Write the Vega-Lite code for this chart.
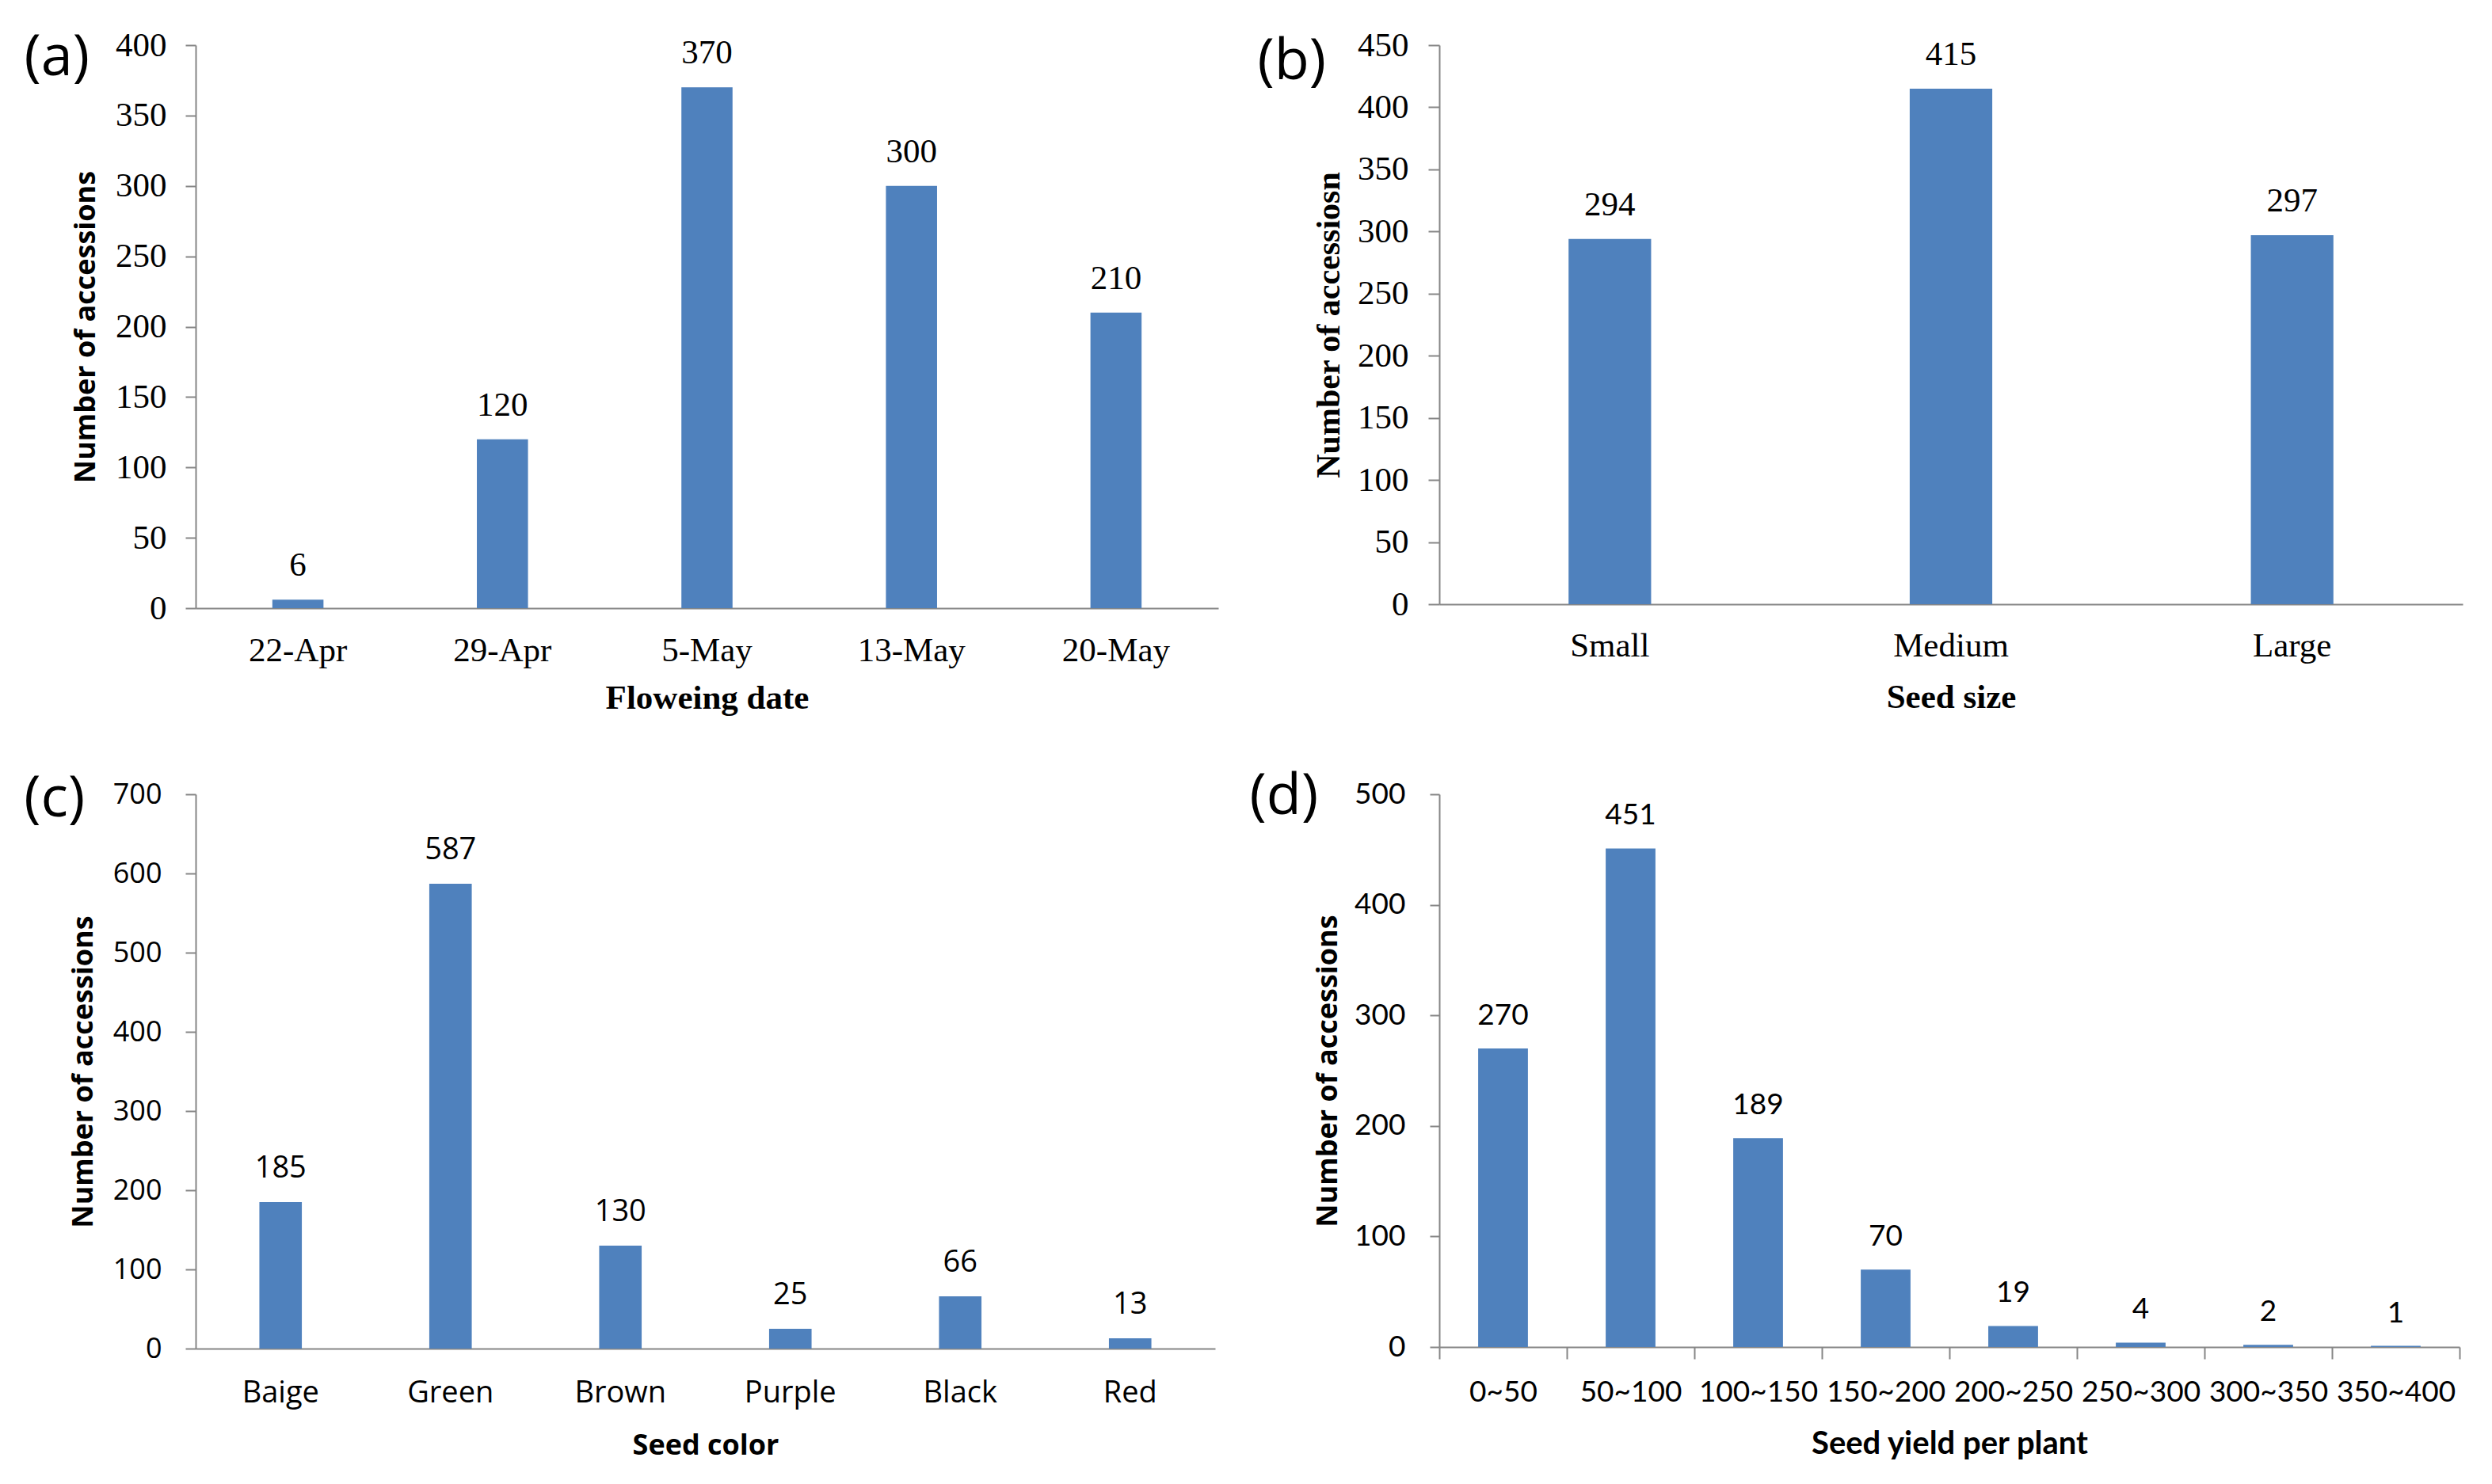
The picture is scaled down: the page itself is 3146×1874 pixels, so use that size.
{
  "$schema": "https://vega.github.io/schema/vega-lite/v6.json",
  "background": "white",
  "padding": {"left": 30, "top": 36, "right": 10, "bottom": 10},
  "columns": 2,
  "spacing": {"row": 67, "column": 39},
  "config": {
    "view": {"stroke": null},
    "axis": {
      "domainColor": "#868686",
      "domainWidth": 2,
      "tickColor": "#868686",
      "tickWidth": 2,
      "grid": false,
      "labelColor": "black",
      "titleColor": "black",
      "labelOverlap": false
    },
    "title": {"color": "black", "font": "Open Sans", "fontSize": 72, "fontWeight": "normal", "anchor": "start", "frame": "bounds", "orient": "top", "baseline": "alphabetic"}
  },
  "datasets": {
    "flowering": [
      {"date": "22-Apr", "count": 6},
      {"date": "29-Apr", "count": 120},
      {"date": "5-May", "count": 370},
      {"date": "13-May", "count": 300},
      {"date": "20-May", "count": 210}
    ],
    "size": [
      {"size": "Small", "count": 294},
      {"size": "Medium", "count": 415},
      {"size": "Large", "count": 297}
    ],
    "color": [
      {"color": "Baige", "count": 185},
      {"color": "Green", "count": 587},
      {"color": "Brown", "count": 130},
      {"color": "Purple", "count": 25},
      {"color": "Black", "count": 66},
      {"color": "Red", "count": 13}
    ],
    "yield": [
      {"range": "0~50", "count": 270},
      {"range": "50~100", "count": 451},
      {"range": "100~150", "count": 189},
      {"range": "150~200", "count": 70},
      {"range": "200~250", "count": 19},
      {"range": "250~300", "count": 4},
      {"range": "300~350", "count": 2},
      {"range": "350~400", "count": 1}
    ]
  },
  "concat": [
    {
      "title": {"text": "(a)", "offset": -74, "dx": -60},
      "width": 1291,
      "height": 711,
      "data": {"name": "flowering"},
      "encoding": {
        "x": {
          "field": "date", "type": "nominal", "sort": null,
          "scale": {"paddingInner": 0.75, "paddingOuter": 0.375},
          "axis": {
            "title": "Floweing date", "labelAngle": 0, "ticks": false,
            "labelFont": "Liberation Serif", "labelFontSize": 43, "labelPadding": 32,
            "titleFont": "Liberation Serif", "titleFontSize": 43, "titleFontWeight": "bold", "titlePadding": 17
          }
        },
        "y": {
          "field": "count", "type": "quantitative",
          "scale": {"domain": [0, 400], "nice": false},
          "axis": {
            "title": "Number of accessions", "values": [0, 50, 100, 150, 200, 250, 300, 350, 400],
            "tickSize": 13, "labelFlush": false,
            "labelFont": "Liberation Serif", "labelFontSize": 43, "labelPadding": 24,
            "titleFont": "Open Sans", "titleFontSize": 36, "titleFontWeight": "bold", "titlePadding": 18
          }
        }
      },
      "layer": [
        {"mark": {"type": "bar", "color": "#4F81BD"}},
        {
          "mark": {"type": "text", "font": "Liberation Serif", "fontSize": 43, "baseline": "alphabetic", "dy": -30, "color": "black"},
          "encoding": {"text": {"field": "count", "type": "quantitative"}}
        }
      ]
    },
    {
      "title": {"text": "(b)", "offset": -79, "dx": -69},
      "width": 1292,
      "height": 706,
      "data": {"name": "size"},
      "encoding": {
        "x": {
          "field": "size", "type": "nominal", "sort": null,
          "scale": {"paddingInner": 0.758, "paddingOuter": 0.379},
          "axis": {
            "title": "Seed size", "labelAngle": 0, "ticks": false,
            "labelFont": "Liberation Serif", "labelFontSize": 43, "labelPadding": 31,
            "titleFont": "Liberation Serif", "titleFontSize": 43, "titleFontWeight": "bold", "titlePadding": 22
          }
        },
        "y": {
          "field": "count", "type": "quantitative",
          "scale": {"domain": [0, 450], "nice": false},
          "axis": {
            "title": "Number of accessiosn", "values": [0, 50, 100, 150, 200, 250, 300, 350, 400, 450],
            "tickSize": 14, "labelFlush": false,
            "labelFont": "Liberation Serif", "labelFontSize": 43, "labelPadding": 25,
            "titleFont": "Liberation Serif", "titleFontSize": 42, "titleFontWeight": "bold", "titlePadding": 14
          }
        }
      },
      "layer": [
        {"mark": {"type": "bar", "color": "#4F81BD"}},
        {
          "mark": {"type": "text", "font": "Liberation Serif", "fontSize": 43, "baseline": "alphabetic", "dy": -30, "color": "black"},
          "encoding": {"text": {"field": "count", "type": "quantitative"}}
        }
      ]
    },
    {
      "title": {"text": "(c)", "offset": -61, "dx": -57},
      "width": 1287,
      "height": 700,
      "data": {"name": "color"},
      "encoding": {
        "x": {
          "field": "color", "type": "nominal", "sort": null,
          "scale": {"paddingInner": 0.75, "paddingOuter": 0.375},
          "axis": {
            "title": "Seed color", "labelAngle": 0, "ticks": false,
            "labelFont": "Open Sans", "labelFontSize": 38, "labelPadding": 37,
            "titleFont": "Open Sans", "titleFontSize": 36, "titleFontWeight": "bold", "titlePadding": 30
          }
        },
        "y": {
          "field": "count", "type": "quantitative",
          "scale": {"domain": [0, 700], "nice": false},
          "axis": {
            "title": "Number of accessions", "values": [0, 100, 200, 300, 400, 500, 600, 700],
            "tickSize": 13, "labelFlush": false,
            "labelFont": "Open Sans", "labelFontSize": 36, "labelPadding": 30,
            "titleFont": "Open Sans", "titleFontSize": 36, "titleFontWeight": "bold", "titlePadding": 18
          }
        }
      },
      "layer": [
        {"mark": {"type": "bar", "color": "#4F81BD"}},
        {
          "mark": {"type": "text", "font": "Open Sans", "fontSize": 38, "baseline": "alphabetic", "dy": -31, "color": "black"},
          "encoding": {"text": {"field": "count", "type": "quantitative"}}
        }
      ]
    },
    {
      "title": {"text": "(d)", "offset": -59, "dx": -81},
      "width": 1288,
      "height": 698,
      "data": {"name": "yield"},
      "encoding": {
        "x": {
          "field": "range", "type": "nominal", "sort": null,
          "scale": {"paddingInner": 0, "paddingOuter": 0},
          "axis": {
            "title": "Seed yield per plant", "labelAngle": 0,
            "ticks": true, "tickBand": "extent", "tickSize": 15,
            "labelFont": "Lato", "labelFontSize": 37, "labelPadding": 24,
            "titleFont": "Lato", "titleFontSize": 40, "titleFontWeight": "bold", "titlePadding": 27
          }
        },
        "y": {
          "field": "count", "type": "quantitative",
          "scale": {"domain": [0, 500], "nice": false},
          "axis": {
            "title": "Number of accessions", "values": [0, 100, 200, 300, 400, 500],
            "tickSize": 12, "labelFlush": false,
            "labelFont": "Lato", "labelFontSize": 37, "labelPadding": 31,
            "titleFont": "Open Sans", "titleFontSize": 36, "titleFontWeight": "bold", "titlePadding": 14
          }
        }
      },
      "layer": [
        {"mark": {"type": "bar", "color": "#4F81BD", "width": {"band": 0.39}}},
        {
          "mark": {"type": "text", "font": "Lato", "fontSize": 37, "baseline": "alphabetic", "dy": -30, "color": "black"},
          "encoding": {"text": {"field": "count", "type": "quantitative"}}
        }
      ]
    }
  ]
}
